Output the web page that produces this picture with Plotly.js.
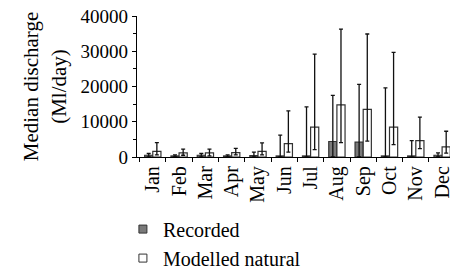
<!DOCTYPE html>
<html>
<head>
<meta charset="utf-8">
<script src="https://cdn.plot.ly/plotly-3.0.1.min.js"></script>
<style>html,body{margin:0;padding:0;background:#fff;}#chart{width:450px;height:270px;}</style>
</head>
<body>
<div id="chart"></div>
<script>
var months = ["Jan","Feb","Mar","Apr","May","Jun","Jul","Aug","Sep","Oct","Nov","Dec"];
var recorded = [500, 300, 500, 300, 400, 300, 300, 4400, 4200, 300, 300, 500];
var recordedErrPlus = [500, 300, 500, 300, 1000, 5900, 13900, 13100, 16400, 19300, 4350, 650];
var recordedErrMinus = [500, 300, 500, 300, 400, 300, 300, 4400, 4200, 300, 300, 500];
var modelled = [1600, 1150, 1150, 1250, 1600, 3800, 8500, 14800, 13500, 8500, 4650, 2850];
var modelledErrPlus = [2500, 1100, 1100, 1200, 2400, 9300, 20700, 21500, 21400, 21200, 6650, 4450];
var modelledErrMinus = [1000, 650, 850, 650, 1000, 2400, 6400, 10700, 9000, 5000, 2250, 1750];
var legendNames = ["Recorded", "Modelled natural"];

var serif = "Liberation Serif";
var traces = [
  {type: "bar", x: months, y: recorded, name: legendNames[0], showlegend: false,
   marker: {color: "#7a7a7a", line: {color: "#333", width: 1.2}},
   error_y: {type: "data", symmetric: false, array: recordedErrPlus, arrayminus: recordedErrMinus,
             color: "#111", thickness: 1.3, width: 2}},
  {type: "bar", x: months, y: modelled, name: legendNames[1], showlegend: false,
   marker: {color: "#ffffff", line: {color: "#333", width: 1.2}},
   error_y: {type: "data", symmetric: false, array: modelledErrPlus, arrayminus: modelledErrMinus,
             color: "#111", thickness: 1.3, width: 2}},
  {type: "scatter", mode: "markers", x: [null], y: [null], name: legendNames[0],
   marker: {symbol: "square", size: 8, color: "#7a7a7a", line: {color: "#333", width: 1}}},
  {type: "scatter", mode: "markers", x: [null], y: [null], name: legendNames[1],
   marker: {symbol: "square", size: 8, color: "#ffffff", line: {color: "#333", width: 1}}}
];

var layout = {
  width: 450, height: 270,
  margin: {l: 137, r: 0, t: 16, b: 113, autoexpand: false},
  paper_bgcolor: "#fff", plot_bgcolor: "#fff",
  font: {family: serif, color: "#000", size: 20},
  barmode: "group", bargap: 0.38, bargroupgap: 0,
  showlegend: true,
  legend: {x: -0.045, y: -0.373, xanchor: "left", yanchor: "top", orientation: "v",
           font: {family: serif, size: 20, color: "#000"}, bgcolor: "rgba(0,0,0,0)", tracegroupgap: 0},
  xaxis: {type: "category", range: [-0.6, 11.3], tickangle: -90, ticks: "outside", tickson: "boundaries",
          ticklen: 4, tickcolor: "#000", showline: true, linecolor: "#000", linewidth: 1.2, automargin: false,
          showgrid: false, zeroline: false, tickfont: {family: serif, size: 20, color: "#000"}, fixedrange: true},
  yaxis: {range: [0, 40000], dtick: 10000, tickformat: "d", ticks: "outside", ticklen: 4, tickcolor: "#000",
          showline: true, linecolor: "#000", linewidth: 1.2, showgrid: false, zeroline: false, automargin: false,
          minor: {dtick: 5000, ticks: "outside", ticklen: 3, tickcolor: "#000"},
          tickfont: {family: serif, size: 19, color: "#000"},
          title: {text: "Median discharge<br>(Ml/day)", font: {family: serif, size: 21, color: "#000"}, standoff: 8},
          fixedrange: true}
};
Plotly.newPlot("chart", traces, layout, {displayModeBar: false, staticPlot: true});
</script>
</body>
</html>
